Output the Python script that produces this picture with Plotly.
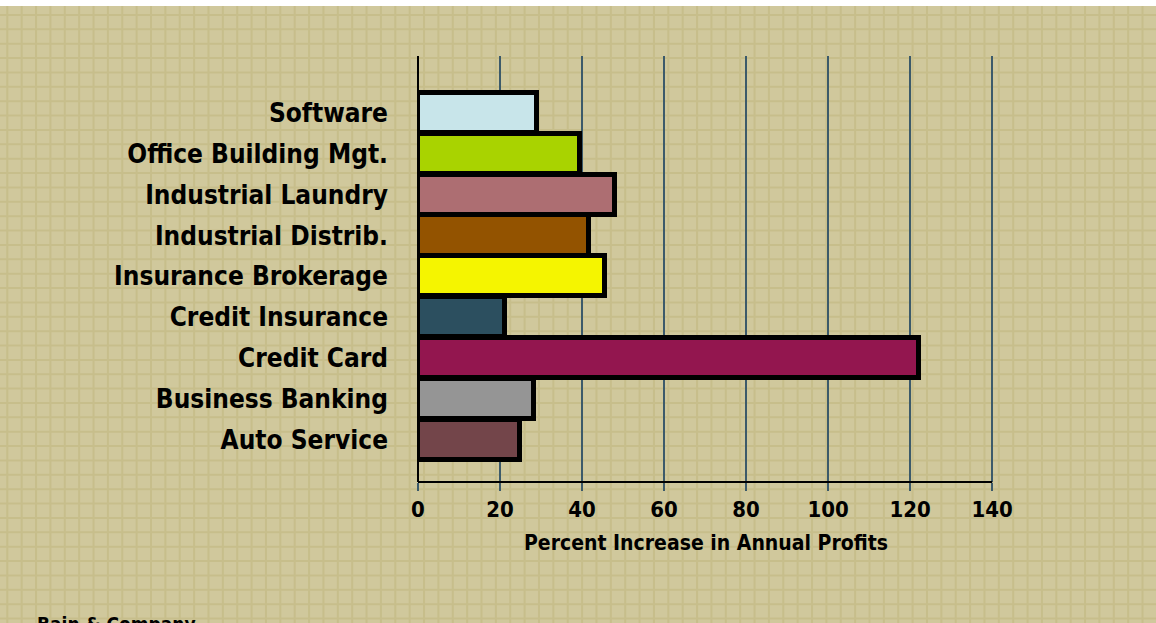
import plotly.graph_objects as go

categories = ["Software", "Office Building Mgt.", "Industrial Laundry", "Industrial Distrib.",
              "Insurance Brokerage", "Credit Insurance", "Credit Card", "Business Banking", "Auto Service"]
values = [29, 39.6, 48, 41.6, 45.5, 21.3, 122.2, 28.2, 24.8]
colors = ["#C8E5EA", "#A9D300", "#AD6E72", "#935300", "#F5F500", "#2C4F5F", "#93164F", "#959595", "#73454A"]
x_ticks = [0, 20, 40, 60, 80, 100, 120, 140]

W, H = 1156, 623
L, R, T, B = 418, 994, 56, 482
FONT = "Liberation Sans Narrow, Arial Narrow, DejaVu Sans Condensed, sans-serif"

def px_x(p):
    return (p - L) / (R - L)

def px_y(p):
    return (B - p) / (B - T)

fig = go.Figure()
fig.add_trace(go.Bar(
    x=values, y=categories, orientation="h",
    marker=dict(color=colors, line=dict(color="black", width=5)),
    width=0.98, hoverinfo="x+y",
))

shapes = []
step = 14.37
gx = 7.3
while gx < W:
    shapes.append(dict(type="line", xref="paper", yref="paper", x0=px_x(gx), x1=px_x(gx),
                       y0=px_y(0), y1=px_y(H), line=dict(color="#C7BE8B", width=2), layer="below"))
    gx += step
gy = 15.0
while gy < H:
    shapes.append(dict(type="line", xref="paper", yref="paper", x0=px_x(0), x1=px_x(W),
                       y0=px_y(gy), y1=px_y(gy), line=dict(color="#C7BE8B", width=2), layer="below"))
    gy += step
shapes.append(dict(type="rect", xref="paper", yref="paper", x0=px_x(0), x1=px_x(W),
                   y0=px_y(0), y1=px_y(6), fillcolor="white", line=dict(width=0), layer="below"))

fig.update_layout(
    width=W, height=H,
    margin=dict(l=L, r=W - R, t=T, b=H - B, pad=0),
    paper_bgcolor="#D0C89C", plot_bgcolor="rgba(0,0,0,0)",
    showlegend=False, bargap=0,
    shapes=shapes,
    font=dict(family=FONT, color="black"),
    xaxis=dict(range=[0, 140.45], tickvals=x_ticks, ticktext=[str(v) for v in x_ticks],
               showgrid=True, gridcolor="#3C5A6A", gridwidth=2,
               zeroline=True, zerolinecolor="black", zerolinewidth=2,
               showline=False,
               ticks="outside", ticklen=8, tickwidth=2, tickcolor="#3C5A6A",
               tickfont=dict(size=22, family=FONT, weight="bold"),
               title=dict(text="<b>Percent Increase in Annual Profits</b>", font=dict(size=21, family=FONT),
                          standoff=13),
               fixedrange=True),
    yaxis=dict(type="category", categoryorder="array", categoryarray=categories[::-1],
               range=[-1.03, 9.39], showgrid=False, zeroline=False,
               showline=False, ticks="",
               ticklabelstandoff=29,
               tickfont=dict(size=26, family=FONT, weight="bold"), fixedrange=True),
    annotations=[dict(text="<b>Bain & Company</b>", xref="paper", yref="paper",
                      x=px_x(35), y=px_y(624), xanchor="left", yanchor="middle",
                      showarrow=False, font=dict(size=19, family=FONT, color="black"))],
)
# x axis baseline from 0 to 140 and the black zero line
fig.add_shape(type="line", xref="x", yref="paper", x0=0, x1=140, y0=0, y1=0,
              line=dict(color="black", width=2), layer="above")
fig.add_shape(type="line", xref="x", yref="paper", x0=0, x1=0, y0=px_y(490), y1=1,
              line=dict(color="black", width=2), layer="below")

fig.write_html("out.html")
